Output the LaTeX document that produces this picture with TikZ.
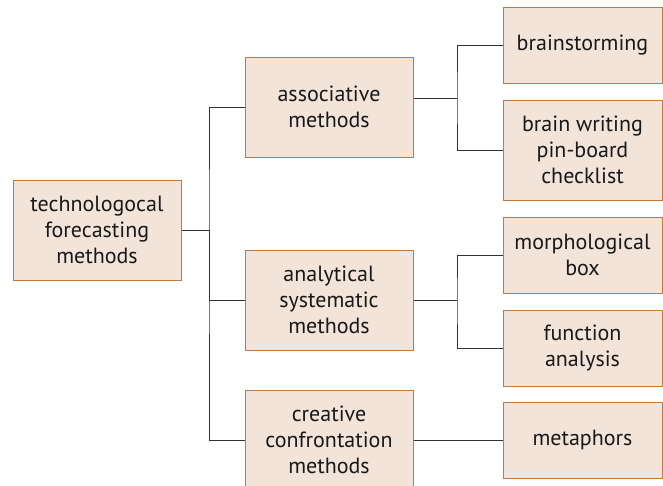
\documentclass[tikz,border=0pt]{standalone}
\usepackage{fontspec}
\setmainfont{PT Sans}
\definecolor{boxfill}{HTML}{F2E4D8}
\definecolor{boxline}{HTML}{C07A40}
\definecolor{conn}{HTML}{333333}
\begin{document}
\begin{tikzpicture}[x=1pt,y=-1pt,
  bx/.style={draw=boxline,fill=boxfill,line width=1pt,inner sep=0pt,align=center,
    font=\fontsize{22}{26}\selectfont,text=black!90},
  big/.style={bx,minimum width=168pt,minimum height=100pt},
  leaf/.style={bx,minimum width=159pt,minimum height=76pt},
  leafb/.style={bx,minimum width=159pt,minimum height=100pt},
  ln/.style={draw=conn,line width=1pt}]
\useasboundingbox (0,0) rectangle (663,485);
\node[big] (root) at (97,230) {technologocal\\forecasting\\methods};
\node[big] (assoc) at (329,107) {associative\\methods};
\node[big] (anal) at (329,300) {analytical\\systematic\\methods};
\node[big] (creat) at (329,440) {creative\\confrontation\\methods};
\node[leaf] (bs) at (582.5,45) {brainstorming};
\node[leafb] (bw) at (582.5,150) {brain writing\\pin-board\\checklist};
\node[leaf] (morph) at (582.5,255) {morphological\\box};
\node[leaf] (func) at (582.5,348) {function\\analysis};
\node[leaf] (meta) at (582.5,440) {metaphors};
\coordinate (j1) at (209,230);
\coordinate (j2) at (457,98);
\coordinate (j3) at (457,300);
\draw[ln] (root.east) -- (j1);
\draw[ln] (assoc.west) -| (j1) |- (creat.west);
\draw[ln] (j1) |- (anal.west);
\draw[ln] ([yshift=9pt]assoc.east) -- (j2);
\draw[ln] (bs.west) -| (j2) |- (bw.west);
\draw[ln] (anal.east) -- (j3);
\draw[ln] (morph.west) -| (j3) |- (func.west);
\draw[ln] (creat.east) -- (meta.west);
\end{tikzpicture}
\end{document}
